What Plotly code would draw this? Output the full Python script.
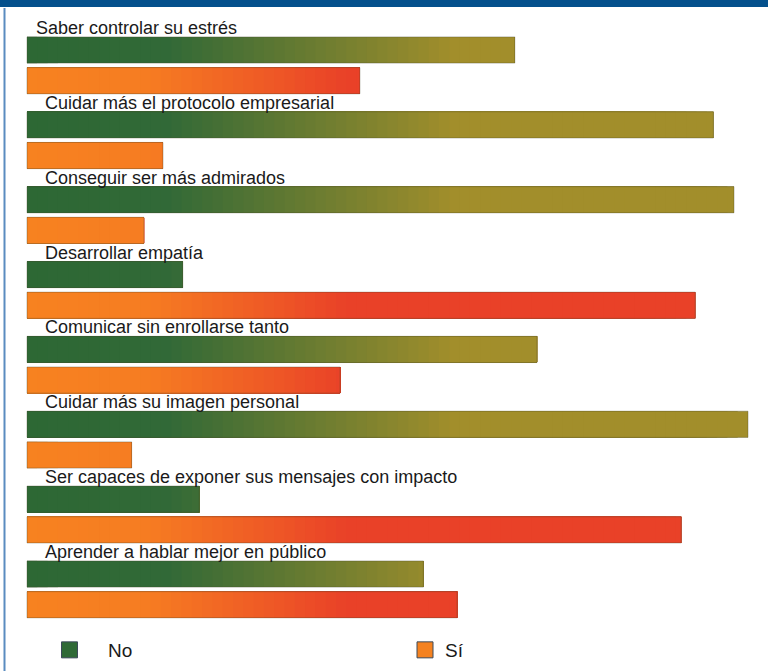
import plotly.graph_objects as go

categories = [
    "Saber controlar su estrés",
    "Cuidar más el protocolo empresarial",
    "Conseguir ser más admirados",
    "Desarrollar empatía",
    "Comunicar sin enrollarse tanto",
    "Cuidar más su imagen personal",
    "Ser capaces de exponer sus mensajes con impacto",
    "Aprender a hablar mejor en público",
]
no_values = [59.2, 83.3, 85.8, 18.9, 61.9, 87.5, 20.9, 48.1]
si_values = [40.4, 16.5, 14.2, 81.1, 38.0, 12.7, 79.4, 52.2]
series_names = ["No", "Sí"]

PX_PER_UNIT = 8.24
W, H = 768, 671
X0_PX = 27
FONT = "Liberation Sans, Arial, sans-serif"

green_stops = [(0.0, (45, 104, 52)), (17.0, (49, 105, 55)), (52.0, (162, 142, 43)), (100.0, (162, 142, 43))]
orange_stops = [(0.0, (247, 130, 32)), (15.0, (246, 124, 34)), (39.0, (233, 65, 40)), (100.0, (233, 65, 40))]


def interp(stops, v):
    for (a, ca), (b, cb) in zip(stops[:-1], stops[1:]):
        if a <= v <= b:
            f = 0 if b == a else (v - a) / (b - a)
            c = [round(ca[i] + (cb[i] - ca[i]) * f) for i in range(3)]
            return "rgb(%d,%d,%d)" % tuple(c)
    return "rgb(%d,%d,%d)" % stops[-1][1]


n = len(categories)
y_no = [i for i in range(n)]
y_si = [i + 0.41 for i in range(n)]
bar_w = 0.35

fig = go.Figure()
N = 70
vmax = max(max(no_values), max(si_values))
steps = [vmax * k / N for k in range(N + 1)]

for vals, ys, stops in [
    (no_values, y_no, green_stops),
    (si_values, y_si, orange_stops),
]:
    for k in range(N, 0, -1):
        t_hi = steps[k]
        mid = (steps[k - 1] + steps[k]) / 2
        col = interp(stops, mid)
        fig.add_trace(go.Bar(
            x=[min(v, t_hi) for v in vals], y=ys, orientation="h", width=bar_w,
            base=0, marker=dict(color=col, line=dict(width=0)),
            showlegend=False, hoverinfo="skip",
        ))
    fig.add_trace(go.Bar(
        x=vals, y=ys, orientation="h", width=bar_w, base=0,
        marker=dict(color="rgba(0,0,0,0)", line=dict(width=1, color="rgba(70,70,40,0.35)")),
        showlegend=False, hoverinfo="skip",
    ))

# legend entries (each in its own legend box, as in the original layout)
legend_colors = ["rgb(47,106,54)", "rgb(245,130,32)"]
legend_ids = ["legend", "legend2"]
for name, col, lid in zip(series_names, legend_colors, legend_ids):
    fig.add_trace(go.Scatter(
        x=[None], y=[None], mode="markers", name=name, legend=lid,
        marker=dict(symbol="square", size=16, color=col, line=dict(width=1, color="#3c4a5a")),
        hoverinfo="skip",
    ))

annotations = []
for i, cat in enumerate(categories):
    xpx = 34 if i == 0 else 43
    annotations.append(dict(
        x=(xpx - X0_PX) / PX_PER_UNIT, y=i - 0.294, xref="x", yref="y",
        text=cat, showarrow=False, xanchor="left", yanchor="middle",
        font=dict(family=FONT, size=18, color="#1a1a1a"),
    ))

shapes = [
    dict(type="rect", xref="paper", yref="paper", x0=0, x1=1, y0=1 - 7 / H, y1=1,
         fillcolor="#04508c", line=dict(width=0), layer="above"),
    dict(type="rect", xref="paper", yref="paper", x0=3.5 / W, x1=5.5 / W, y0=0, y1=1 - 8 / H,
         fillcolor="#5a8cc0", line=dict(width=0), layer="above"),
]

legend_font = dict(family=FONT, size=19, color="#1a1a1a")
fig.update_layout(
    width=W, height=H,
    margin=dict(l=0, r=0, t=0, b=0),
    paper_bgcolor="white", plot_bgcolor="white",
    barmode="overlay",
    xaxis=dict(range=[-X0_PX / PX_PER_UNIT, (W - X0_PX) / PX_PER_UNIT], visible=False, fixedrange=True),
    yaxis=dict(range=[(H - 50) / 74.86, -50 / 74.86], visible=False, fixedrange=True),
    annotations=annotations,
    shapes=shapes,
    showlegend=True,
    legend=dict(
        orientation="h", x=31 / W, y=1 - 650 / H, xanchor="left", yanchor="middle",
        font=legend_font, itemwidth=67, bgcolor="rgba(0,0,0,0)",
    ),
    legend2=dict(
        orientation="h", x=405 / W, y=1 - 650 / H, xanchor="left", yanchor="middle",
        font=legend_font, itemwidth=30, bgcolor="rgba(0,0,0,0)",
    ),
)

fig.write_html("out.html")
